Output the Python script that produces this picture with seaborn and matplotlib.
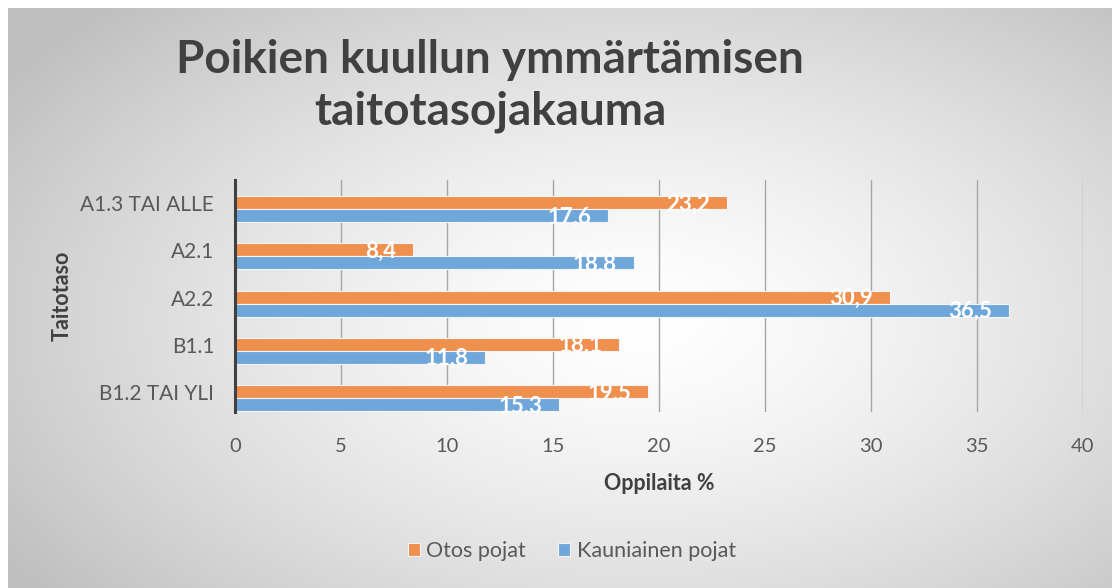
import numpy as np
import pandas as pd
import matplotlib.pyplot as plt
import matplotlib.transforms as mtransforms
import seaborn as sns

# Aineisto
levels = ["A1.3 TAI ALLE", "A2.1", "A2.2", "B1.1", "B1.2 TAI YLI"]
otos = [23.2, 8.4, 30.9, 18.1, 19.5]
kauniainen = [17.6, 18.8, 36.5, 11.8, 15.3]
series = ["Otos pojat", "Kauniainen pojat"]
x_ticks = [0, 5, 10, 15, 20, 25, 30, 35, 40]

df = pd.DataFrame({
    "Taitotaso": levels * 2,
    "Oppilaita": otos + kauniainen,
    "Ryhmä": [series[0]] * len(levels) + [series[1]] * len(levels),
})

sns.set_theme(style="white")
plt.rcParams["font.family"] = ["Lato", "DejaVu Sans"]

W, H = 1112, 588
fig = plt.figure(figsize=(W / 100, H / 100), dpi=100, facecolor="white")

# Taustan säteittäinen liukuväri
bg = fig.add_axes([0, 0, 1, 1], zorder=-10)
xx, yy = np.meshgrid(np.arange(W), np.arange(H))
d = np.sqrt(((xx - 640) / 760) ** 2 + ((yy - 320) / 440) ** 2)
shade = 1 - 0.25 * np.clip(d, 0, 1) ** 1.4
img = np.dstack([shade] * 3)
img[:8, :, :] = 1
img[:, :8, :] = 1
bg.imshow(img, aspect="auto", vmin=0, vmax=1)
bg.set_axis_off()

# Pääkuvaaja
ax = fig.add_axes([235 / W, 1 - 412 / H, 848 / W, 232 / H])
ax.set_facecolor("none")
orange = "#F0904F"
blue = "#6FA7DB"
sns.barplot(data=df, y="Taitotaso", x="Oppilaita", hue="Ryhmä", orient="h",
            palette=[orange, blue], width=0.55, saturation=1,
            edgecolor="#f4f4f4", linewidth=0.8, ax=ax)

ax.set_xlim(0, 40)
ax.set_ylim(4.296, -0.614)
ax.set_xticks(x_ticks)
ax.set_xticklabels([str(t) for t in x_ticks])
ax.grid(axis="x", color="#a6a6a6", linewidth=1)
ax.grid(axis="y", visible=False)
ax.set_axisbelow(True)
for s in ["top", "right", "bottom"]:
    ax.spines[s].set_visible(False)
ax.spines["left"].set_color("#404040")
ax.spines["left"].set_linewidth(2.2)
ax.tick_params(axis="x", length=0, pad=19, labelsize=14.5, labelcolor="#595959")
ax.tick_params(axis="y", length=0, pad=15, labelsize=15, labelcolor="#595959")

# kategoriat hieman palkkien yläpuolelle kuten Excelissä
shift = mtransforms.ScaledTranslation(0, 6 / 100, fig.dpi_scale_trans)
for lbl in ax.get_yticklabels():
    lbl.set_transform(lbl.get_transform() + shift)

# Arvot palkkien sisään
for cont in ax.containers:
    for bar in cont:
        v = bar.get_width()
        ax.annotate(f"{v:.1f}".replace(".", ","),
                    xy=(v, bar.get_y() + bar.get_height() / 2),
                    xytext=(-12, -1), textcoords="offset points",
                    ha="right", va="center", color="white",
                    fontsize=16, fontweight="bold")

ax.set_xlabel("Oppilaita %", fontsize=15.5, fontweight="bold", color="#404040")
ax.xaxis.set_label_coords(0.5, (412 - 484) / 232)
ax.xaxis.label.set_va("center")
ax.set_ylabel("Taitotaso", fontsize=15.5, fontweight="bold", color="#404040")
ax.yaxis.set_label_coords((62 - 235) / 848, 0.5)
ax.yaxis.label.set_va("center")

# Selite
sns.move_legend(ax, "center", bbox_to_anchor=(572 / W, 1 - 551 / H),
                bbox_transform=fig.transFigure, ncol=2, frameon=False,
                title=None, fontsize=15.5, handlelength=0.55, handleheight=0.55,
                handletextpad=0.3, columnspacing=1.5)
for t in ax.get_legend().get_texts():
    t.set_color("#595959")

# Otsikko
fig.text(490 / W, 1 - 86 / H, "Poikien kuullun ymmärtämisen\ntaitotasojakauma",
         ha="center", va="center", multialignment="center", linespacing=1.28,
         fontsize=33, fontweight="bold", color="#404040")

fig.savefig("out.png", dpi=100, facecolor=fig.get_facecolor())
